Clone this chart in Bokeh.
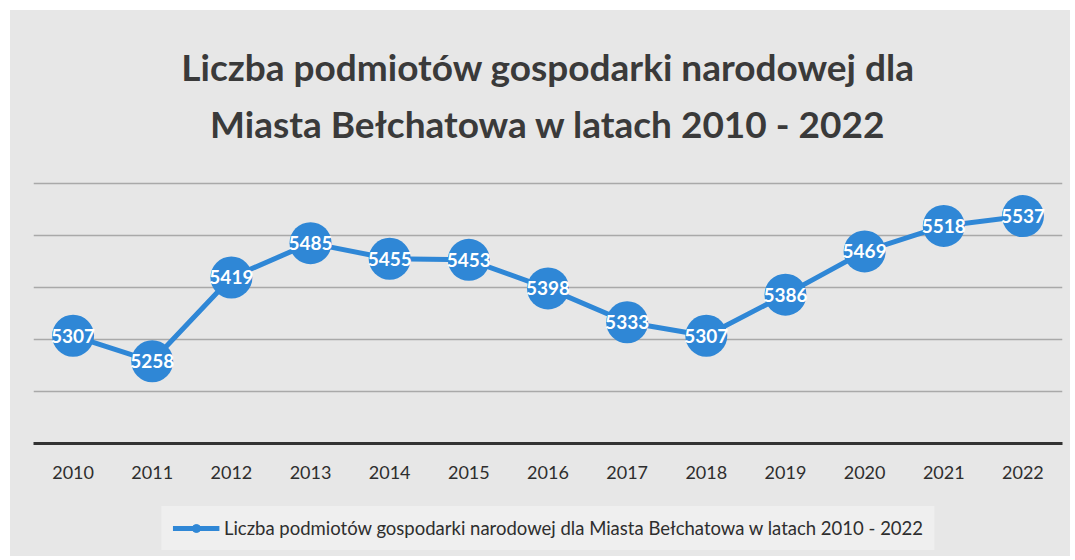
from bokeh.plotting import figure
from bokeh.layouts import column
from bokeh.models import FactorRange, Range1d, FixedTicker, Legend, LegendItem, Title
from bokeh.core.properties import value
from bokeh.embed import file_html
from bokeh.resources import INLINE

# ---- data ----
years = ["2010", "2011", "2012", "2013", "2014", "2015", "2016",
         "2017", "2018", "2019", "2020", "2021", "2022"]
values = [5307, 5258, 5419, 5485, 5455, 5453, 5398, 5333, 5307, 5386, 5469, 5518, 5537]
labels = [str(v) for v in values]
title_line1 = "Liczba podmiotów gospodarki narodowej dla"
title_line2 = "Miasta Bełchatowa w latach 2010 - 2022"
series_name = "Liczba podmiotów gospodarki narodowej dla Miasta Bełchatowa w latach 2010 - 2022"
grid_values = [5100, 5200, 5300, 5400, 5500, 5600]

BG = "#e7e7e7"
BLUE = "#2f87d6"
TXT = "#3a3a3a"
FONT = "Lato"

p = figure(width=1060, height=485,
           x_range=FactorRange(factors=years, range_padding=0),
           y_range=Range1d(5100, 5663),
           output_backend="svg", toolbar_location=None,
           y_axis_location=None, title=None,
           min_border_left=23, min_border_right=8,
           min_border_top=140, min_border_bottom=52)

p.add_layout(Title(text=title_line2, align="center", text_font=FONT, text_font_size="37px",
                   text_font_style="bold", text_color=TXT), "above")
p.add_layout(Title(text=title_line1, align="center", text_font=FONT, text_font_size="37px",
                   text_font_style="bold", text_color=TXT), "above")

p.background_fill_color = BG
p.border_fill_color = BG
p.outline_line_color = None

p.xgrid.visible = False
p.ygrid.ticker = FixedTicker(ticks=grid_values)
p.ygrid.grid_line_color = "#a9a9a9"
p.ygrid.grid_line_width = 1.5

p.xaxis.axis_line_width = 3
p.xaxis.axis_line_color = "#333333"
p.xaxis.major_tick_line_color = None
p.xaxis.minor_tick_line_color = None
p.xaxis.major_label_text_font = FONT
p.xaxis.major_label_text_font_size = "18px"
p.xaxis.major_label_text_color = "#2e2e2e"
p.xaxis.major_label_standoff = 16

p.line(x=years, y=values, line_color=BLUE, line_width=5)
p.scatter(x=years, y=values, size=42, fill_color=BLUE, line_color=None)
p.text(x=years, y=values, text=labels, text_align="center", text_baseline="middle",
       text_color="white", text_font=value(FONT), text_font_style="bold",
       text_font_size="19px")

# ---- legend strip below the chart (series drawn out of view, only its legend shows) ----
lg = figure(width=1060, height=61, x_range=FactorRange(factors=years), y_range=Range1d(0, 1),
            output_backend="svg", toolbar_location=None,
            x_axis_location=None, y_axis_location=None, title=None,
            min_border_left=14, min_border_right=0, min_border_top=0, min_border_bottom=0)
lg.background_fill_color = BG
lg.border_fill_color = BG
lg.outline_line_color = None
lg.grid.visible = False
leg_line = lg.line(x=years, y=values, line_color=BLUE, line_width=5)
leg_pt = lg.scatter(x=years, y=values, size=8, fill_color=BLUE, line_color=BLUE)

legend = Legend(items=[LegendItem(label=series_name, renderers=[leg_line, leg_pt])],
                location="bottom_center", orientation="horizontal",
                background_fill_color="#efefef", background_fill_alpha=1,
                border_line_alpha=0, padding=11, margin=6,
                glyph_width=47, glyph_height=20,
                label_text_font=FONT, label_text_font_size="18.5px",
                label_text_color="#2e2e2e")
lg.add_layout(legend)

layout = column(p, lg, spacing=0, margin=(10, 0, 0, 10),
                styles={"background-color": BG})
open("out.html", "w").write(file_html(layout, INLINE))
